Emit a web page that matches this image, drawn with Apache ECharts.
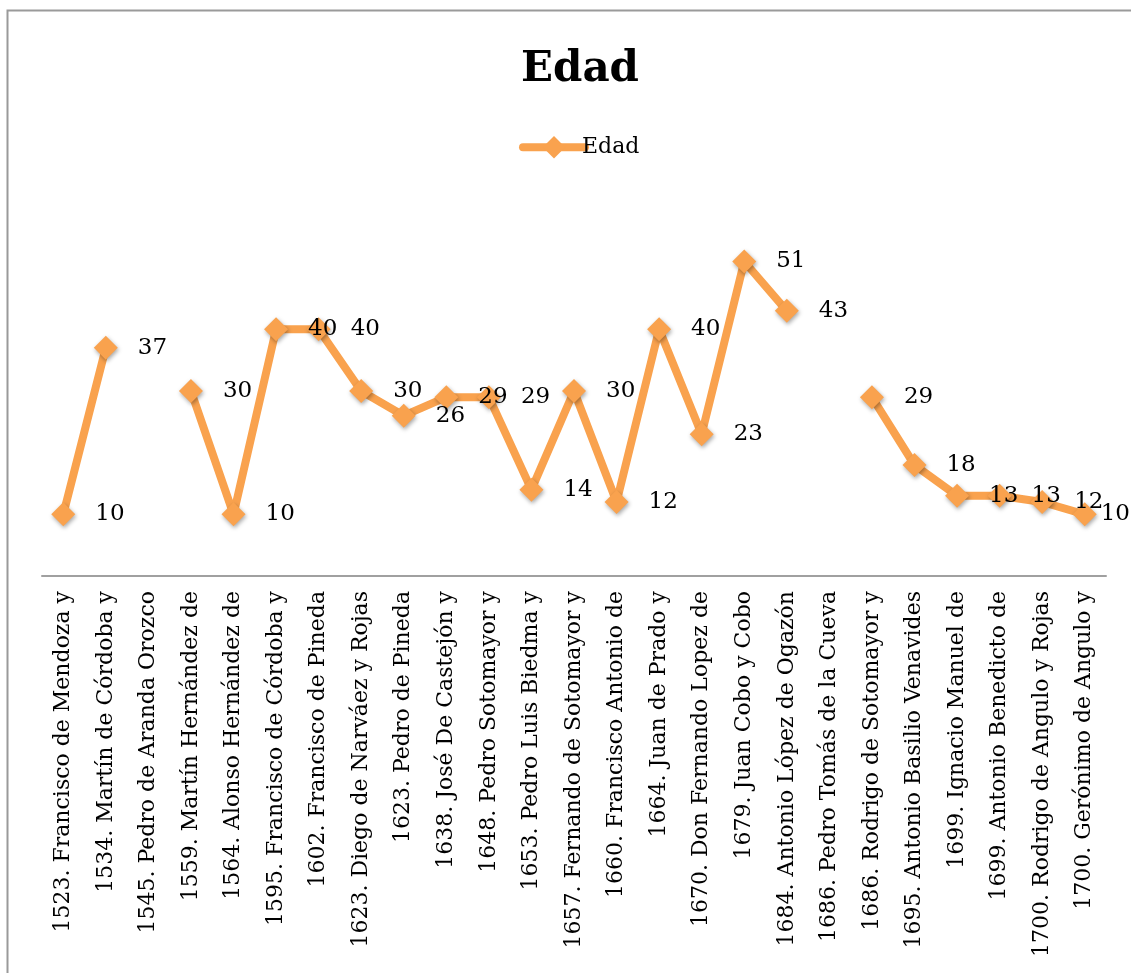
<!DOCTYPE html>
<html>
<head>
<meta charset="utf-8">
<script src="https://cdn.jsdelivr.net/npm/echarts@6/dist/echarts.min.js"></script>
<style>html,body{margin:0;padding:0;background:#fff}#c{width:1131px;height:973px}</style>
</head>
<body>
<div id="c"></div>
<script>
const categories = [
  "1523. Francisco de Mendoza y",
  "1534. Martín de Córdoba y",
  "1545. Pedro de Aranda Orozco",
  "1559. Martín Hernández de",
  "1564. Alonso Hernández de",
  "1595. Francisco de Córdoba y",
  "1602. Francisco de Pineda",
  "1623. Diego de Narváez y Rojas",
  "1623. Pedro de Pineda",
  "1638. José De Castejón y",
  "1648. Pedro Sotomayor y",
  "1653. Pedro Luis Biedma y",
  "1657. Fernando de Sotomayor y",
  "1660. Francisco Antonio de",
  "1664. Juan de Prado y",
  "1670. Don Fernando Lopez de",
  "1679. Juan Cobo y Cobo",
  "1684. Antonio López de Ogazón",
  "1686. Pedro Tomás de la Cueva",
  "1686. Rodrigo de Sotomayor y",
  "1695. Antonio Basilio Venavides",
  "1699. Ignacio Manuel de",
  "1699. Antonio Benedicto de",
  "1700. Rodrigo de Angulo y Rojas",
  "1700. Gerónimo de Angulo y"
];
const edad = [10, 37, null, 30, 10, 40, 40, 30, 26, 29, 29, 14, 30, 12, 40, 23, 51, 43, null, 29, 18, 13, 13, 12, 10];
const seriesName = "Edad";
const titleText = "Edad";

const serif = "'DejaVu Serif', 'Liberation Serif', serif";
const orange = "#F9A24E";
const W = 1131;
const chart = echarts.init(document.getElementById('c'), null, {renderer: 'canvas'});
chart.setOption({
  animation: false,
  backgroundColor: '#fff',
  graphic: [{
    type: 'rect', z: -1,
    shape: {x: 7.5, y: 10.5, width: 1140, height: 1000},
    style: {fill: 'none', stroke: '#9a9a9a', lineWidth: 2}
  }],
  title: {
    text: titleText, left: 516, top: 44,
    textStyle: {fontFamily: serif, fontSize: 42, fontWeight: 'bold', color: '#000'}
  },
  legend: {
    top: 131, left: 514,
    itemWidth: 62, itemHeight: 28, itemGap: 0,
    textStyle: {fontFamily: serif, fontSize: 22, color: '#000', padding: [0,0,0,-8]},
    data: [{
      name: seriesName,
      lineStyle: {width: 8, color: orange, cap: 'round'},
      itemStyle: {color: orange}
    }]
  },
  grid: {left: 42, right: 25, top: 206, bottom: 397, containLabel: false},
  xAxis: {
    type: 'category', data: categories, boundaryGap: true,
    axisLine: {lineStyle: {color: '#a0a0a0', width: 2}},
    axisTick: {show: false},
    axisLabel: {rotate: 90, interval: 0, margin: 15, fontFamily: serif, fontSize: 22, color: '#000'}
  },
  yAxis: {type: 'value', min: 0, max: 60, show: false, splitLine: {show: false}},
  series: [{
    name: seriesName, type: 'line', data: edad,
    symbol: 'diamond', symbolSize: 24,
    lineStyle: {color: orange, width: 8, cap: 'round', join: 'round'},
    itemStyle: {color: orange, shadowBlur: 4, shadowColor: 'rgba(0,0,0,0.35)', shadowOffsetX: 1, shadowOffsetY: 2},
    label: {show: true, position: 'right', distance: 20, fontFamily: serif, fontSize: 23, color: '#000'},
    labelLayout: function (p) {
      var r = p.labelRect || p.rect;
      if (r && r.x + r.width > W) {
        return {dx: W - (r.x + r.width) - 1};
      }
      return {};
    }
  }]
});
</script>
</body>
</html>
